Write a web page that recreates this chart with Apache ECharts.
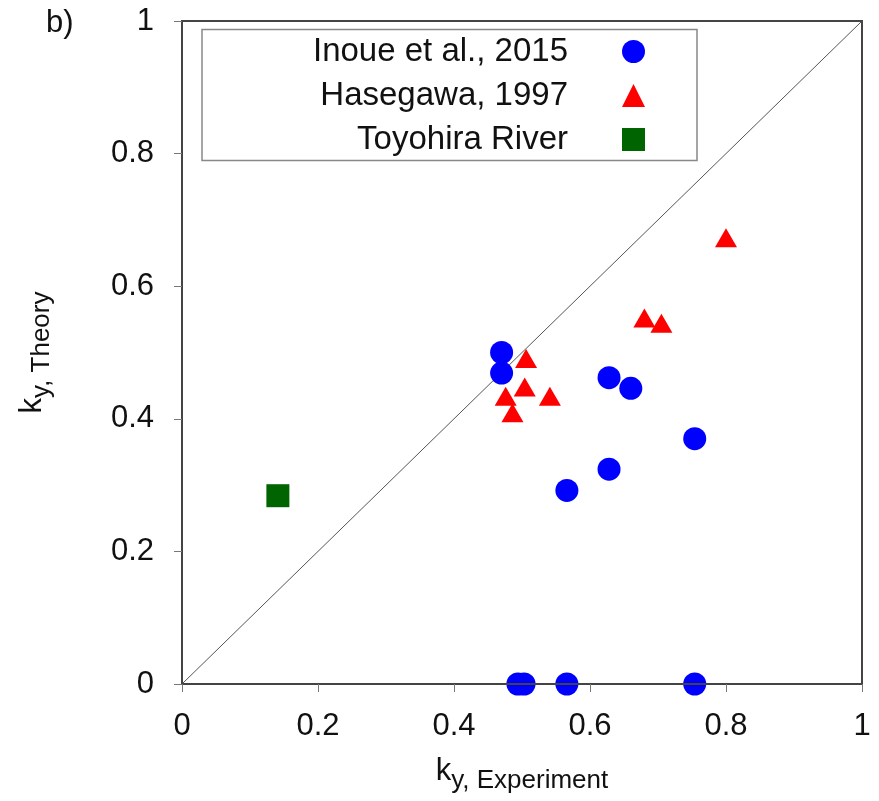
<!DOCTYPE html>
<html>
<head>
<meta charset="utf-8">
<script src="https://cdn.jsdelivr.net/npm/echarts@6/dist/echarts.min.js"></script>
<style>
html,body{margin:0;padding:0;background:#fff;}
#chart{width:879px;height:801px;}
</style>
</head>
<body>
<div id="chart"></div>
<script>
// ---- data ----
const inoueX = [0.470, 0.470, 0.628, 0.660, 0.754, 0.628, 0.566, 0.494, 0.503, 0.566, 0.754];
const inoueY = [0.500, 0.469, 0.462, 0.446, 0.370, 0.324, 0.292, 0.000, 0.000, 0.000, 0.000];
const hasegawaX = [0.800, 0.680, 0.705, 0.506, 0.504, 0.476, 0.486, 0.541];
const hasegawaY = [0.673, 0.552, 0.544, 0.491, 0.448, 0.434, 0.409, 0.434];
const toyohiraX = [0.141];
const toyohiraY = [0.284];
const diagX = [0, 1];
const diagY = [0, 1];
const seriesNames = ['Inoue et al., 2015', 'Hasegawa, 1997', 'Toyohira River'];
const tickValues = [0, 0.2, 0.4, 0.6, 0.8, 1];

const zip = (xs, ys) => xs.map((x, i) => [x, ys[i]]);
const FONT = '"Liberation Sans", Arial, Helvetica, sans-serif';

const chart = echarts.init(document.getElementById('chart'), null, {renderer: 'canvas'});

const axisCommon = {
  type: 'value', min: 0, max: 1, interval: 0.2, z: 5,
  axisLine: {show: true, lineStyle: {color: '#444', width: 2}},
  axisTick: {show: true, inside: false, length: 8, lineStyle: {color: '#777', width: 1}},
  splitLine: {show: false},
  axisLabel: {color: '#111', fontSize: 31, fontFamily: FONT,
    formatter: v => tickValues.includes(+v.toFixed(1)) ? String(+v.toFixed(1)) : ''}
};

const nameRich = {
  k: {fontSize: 31, fontFamily: FONT, color: '#111', verticalAlign: 'top'},
  s: {fontSize: 26, fontFamily: FONT, color: '#111', verticalAlign: 'bottom', padding: [12, 0, 0, 0]}
};

chart.setOption({
  animation: false,
  backgroundColor: '#fff',
  grid: {left: 182, top: 21, right: 17, bottom: 117, show: true, borderColor: '#444', borderWidth: 2, backgroundColor: 'transparent'},
  xAxis: Object.assign({}, axisCommon, {
    axisLabel: Object.assign({}, axisCommon.axisLabel, {margin: 27}),
    name: '{k|k}{s|y, Experiment}', nameLocation: 'middle', nameGap: 72,
    nameTextStyle: {fontFamily: FONT, color: '#111', rich: nameRich}
  }),
  yAxis: Object.assign({}, axisCommon, {
    axisLabel: Object.assign({}, axisCommon.axisLabel, {margin: 28}),
    name: '{k|k}{s|y, Theory}', nameLocation: 'middle', nameGap: 127, nameRotate: 90,
    nameTextStyle: {fontFamily: FONT, color: '#111', rich: nameRich}
  }),
  legend: {
    data: seriesNames,
    orient: 'vertical', align: 'right',
    right: 234, top: 35,
    padding: 0,
    itemWidth: 23, itemHeight: 23, itemGap: 11,
    textStyle: {fontSize: 33, fontFamily: FONT, color: '#111', padding: [0, 49, 0, 0]},
    selectedMode: false
  },
  graphic: [
    {type: 'rect', shape: {x: 202, y: 29.5, width: 495, height: 131}, style: {fill: 'none', stroke: '#888', lineWidth: 1.5}, z: 1},
    {type: 'text', left: 46, top: 8, style: {text: 'b)', fontSize: 31, fontFamily: FONT, fill: '#111'}}
  ],
  series: [
    {type: 'line', data: zip(diagX, diagY), symbol: 'none', silent: true, z: 1,
      lineStyle: {color: '#555', width: 1}},
    {name: seriesNames[0], type: 'scatter', data: zip(inoueX, inoueY), symbol: 'circle', symbolSize: 23,
      itemStyle: {color: '#0000ff', opacity: 1}, z: 3},
    {name: seriesNames[1], type: 'scatter', data: zip(hasegawaX, hasegawaY), symbol: 'triangle', symbolSize: [22, 19],
      itemStyle: {color: '#ff0000', opacity: 1}, z: 3},
    {name: seriesNames[2], type: 'scatter', data: zip(toyohiraX, toyohiraY), symbol: 'rect', symbolSize: 23,
      itemStyle: {color: '#006400', opacity: 1}, z: 3}
  ]
});
</script>
</body>
</html>
